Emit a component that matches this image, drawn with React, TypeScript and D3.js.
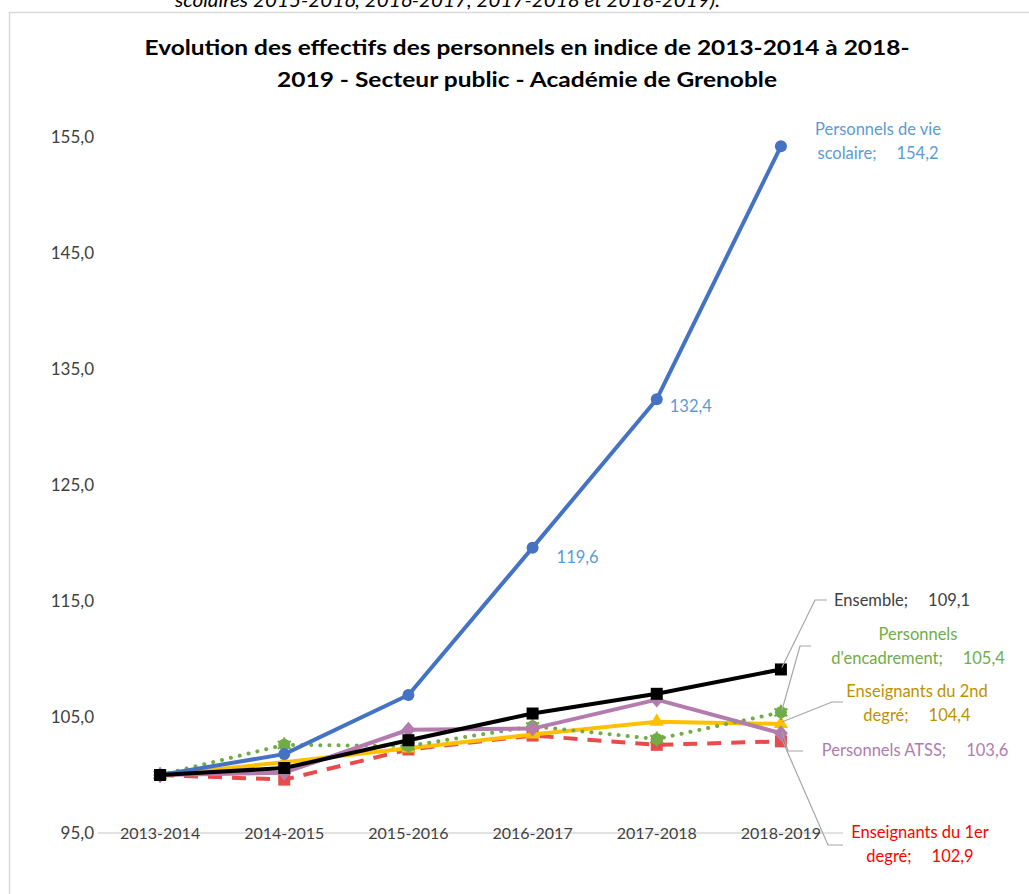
import { useEffect, useRef } from "react";
import * as d3 from "d3";

const years = ["2013-2014", "2014-2015", "2015-2016", "2016-2017", "2017-2018", "2018-2019"];
const yTicks = [95, 105, 115, 125, 135, 145, 155];

const vieScolaire = [100, 101.8, 106.9, 119.6, 132.4, 154.2];
const ensemble = [100, 100.6, 103.0, 105.3, 107.0, 109.1];
const encadrement = [100, 102.6, 102.5, 104.2, 103.1, 105.4];
const second = [100, 101.1, 102.3, 103.5, 104.6, 104.4];
const atss = [100, 100.2, 103.9, 104.0, 106.5, 103.6];
const premier = [100, 99.6, 102.2, 103.4, 102.6, 102.9];

const FONT = "Lato, 'Open Sans', sans-serif";

interface Series {
  name: string;
  values: number[];
  color: string;
  width: number;
  dash: string | null;
  cap: string;
  marker: "circle" | "square" | "triangle" | "diamond" | "star";
}

// drawing order: bottom to top
const series: Series[] = [
  { name: "premier", values: premier, color: "#E84B4B", width: 4, dash: "14,10", cap: "butt", marker: "square" },
  { name: "second", values: second, color: "#FFC000", width: 4, dash: null, cap: "round", marker: "triangle" },
  { name: "encadrement", values: encadrement, color: "#70AD47", width: 4, dash: "0.1,9", cap: "round", marker: "star" },
  { name: "atss", values: atss, color: "#B47BAE", width: 4, dash: null, cap: "round", marker: "diamond" },
  { name: "vie", values: vieScolaire, color: "#4472C4", width: 4, dash: null, cap: "round", marker: "circle" },
  { name: "ensemble", values: ensemble, color: "#000000", width: 4, dash: null, cap: "round", marker: "square" },
];

const App = () => {
  const svgRef = useRef<SVGSVGElement | null>(null);

  useEffect(() => {
    const svg = d3.select(svgRef.current);
    svg.selectAll("*").remove();

    const x = d3.scalePoint<string>().domain(years).range([98, 843]).padding(0.5);
    const y = d3.scaleLinear().domain([95, 155]).range([833, 137]);

    // frame + cropped caption above the chart
    svg.append("text")
      .attr("x", 175)
      .attr("y", 7)
      .attr("font-family", FONT)
      .attr("font-style", "italic")
      .attr("font-size", 19)
      .attr("fill", "#000")
      .attr("textLength", 545)
      .attr("lengthAdjust", "spacingAndGlyphs")
      .text("scolaires 2015-2016, 2016-2017, 2017-2018 et 2018-2019).");

    svg.append("rect")
      .attr("x", 9.5)
      .attr("y", 12.5)
      .attr("width", 1100)
      .attr("height", 1000)
      .attr("fill", "#fff")
      .attr("stroke", "#D9D9D9")
      .attr("stroke-width", 1.5);

    // title
    const title = [
      { t: "Evolution des effectifs des personnels en indice de 2013-2014 à 2018-", y: 55, len: 765 },
      { t: "2019 - Secteur public - Académie de Grenoble", y: 87, len: 500 },
    ];
    svg.selectAll(".title")
      .data(title)
      .enter()
      .append("text")
      .attr("x", 527)
      .attr("y", (d) => d.y)
      .attr("text-anchor", "middle")
      .attr("font-family", FONT)
      .attr("font-weight", "bold")
      .attr("font-size", 21)
      .attr("fill", "#000")
      .attr("textLength", (d) => d.len)
      .attr("lengthAdjust", "spacingAndGlyphs")
      .text((d) => d.t);

    // y axis labels
    svg.append("g")
      .selectAll("text")
      .data(yTicks)
      .enter()
      .append("text")
      .attr("x", 94)
      .attr("y", (d) => y(d) + 6)
      .attr("text-anchor", "end")
      .attr("font-family", FONT)
      .attr("font-size", 17)
      .attr("fill", "#404040")
      .text((d) => d3.format(".1f")(d).replace(".", ","));

    // x axis
    svg.append("line")
      .attr("x1", 98)
      .attr("x2", 843)
      .attr("y1", y(95))
      .attr("y2", y(95))
      .attr("stroke", "#D9D9D9")
      .attr("stroke-width", 1.5);

    svg.append("g")
      .selectAll("text")
      .data(years)
      .enter()
      .append("text")
      .attr("x", (d) => x(d) ?? 0)
      .attr("y", y(95) + 6)
      .attr("text-anchor", "middle")
      .attr("font-family", FONT)
      .attr("font-size", 16)
      .attr("fill", "#404040")
      .text((d) => d);

    const line = d3
      .line<number>()
      .x((_, i) => x(years[i]) ?? 0)
      .y((d) => y(d));

    series.forEach((s) => {
      const g = svg.append("g");
      g.append("path")
        .datum(s.values)
        .attr("fill", "none")
        .attr("stroke", s.color)
        .attr("stroke-width", s.width)
        .attr("stroke-linecap", s.cap)
        .attr("stroke-linejoin", "round")
        .attr("stroke-dasharray", s.dash)
        .attr("d", line);

      const pts = g.selectAll(".m")
        .data(s.values)
        .enter()
        .append("g")
        .attr("transform", (d, i) => `translate(${x(years[i])},${y(d)})`);

      if (s.marker === "circle") {
        pts.append("circle").attr("r", 6).attr("fill", s.color);
      } else if (s.marker === "square") {
        pts.append("rect").attr("x", -6).attr("y", -6).attr("width", 12).attr("height", 12).attr("fill", s.color);
      } else if (s.marker === "triangle") {
        pts.append("path").attr("d", d3.symbol(d3.symbolTriangle, 90)()).attr("fill", s.color);
      } else if (s.marker === "diamond") {
        pts.append("path").attr("d", "M0,-8L7,0L0,8L-7,0Z").attr("fill", s.color);
      } else {
        pts.append("circle").attr("r", 6).attr("fill", s.color);
        pts.append("path")
          .attr("d", d3.symbol(d3.symbolAsterisk, 160)())
          .attr("fill", "none")
          .attr("stroke", s.color)
          .attr("stroke-width", 2);
      }
    });

    // leader lines for end labels
    const lastX = x(years[5]) ?? 0;
    const leaders = [
      { v: ensemble[5], pts: [[815, 600], [827, 600]] },
      { v: encadrement[5], pts: [[800, 646], [811, 646]] },
      { v: second[5], pts: [[832, 702], [843, 702]] },
      { v: atss[5], pts: [[788, 751], [803, 751]] },
      { v: premier[5], pts: [[828, 845], [843, 845]] },
    ];
    leaders.forEach((l) => {
      const path = d3.line()([[lastX + 1, y(l.v) - 2], ...(l.pts as [number, number][])]);
      svg.append("path")
        .attr("d", path)
        .attr("fill", "none")
        .attr("stroke", "#A6A6A6")
        .attr("stroke-width", 1.2);
    });

    // data labels
    const labels = [
      { lines: ["Personnels de vie", "scolaire;|154,2"], x: 878, y: 135, anchor: "middle", color: "#5B9BD5" },
      { lines: ["132,4"], x: (x(years[4]) ?? 0) + 13, y: y(vieScolaire[4]) + 13, anchor: "start", color: "#5B9BD5" },
      { lines: ["119,6"], x: (x(years[3]) ?? 0) + 24, y: y(vieScolaire[3]) + 15, anchor: "start", color: "#5B9BD5" },
      { lines: ["Ensemble;|109,1"], x: 834, y: 606, anchor: "start", color: "#404040" },
      { lines: ["Personnels", "d'encadrement;|105,4"], x: 918, y: 640, anchor: "middle", color: "#70AD47" },
      { lines: ["Enseignants du 2nd", "degré;|104,4"], x: 917, y: 697, anchor: "middle", color: "#BF9000" },
      { lines: ["Personnels ATSS;|103,6"], x: 915, y: 756, anchor: "middle", color: "#B07CB0" },
      { lines: ["Enseignants du 1er", "degré;|102,9"], x: 920, y: 838, anchor: "middle", color: "#FF0000" },
    ];
    labels.forEach((lb) => {
      const t = svg.append("text")
        .attr("x", lb.x)
        .attr("y", lb.y)
        .attr("text-anchor", lb.anchor)
        .attr("font-family", FONT)
        .attr("font-size", 16.5)
        .attr("fill", lb.color);
      lb.lines.forEach((s, i) => {
        const parts = s.split("|");
        t.append("tspan").attr("x", lb.x).attr("dy", i === 0 ? 0 : 24).text(parts[0]);
        if (parts[1]) t.append("tspan").attr("dx", 20).text(parts[1]);
      });
    });
  }, []);

  return (
    <svg
      ref={svgRef}
      role="img"
      aria-label="Evolution des effectifs"
      width={1029}
      height={894}
      style={{ position: "absolute", left: 0, top: 0, background: "#fff" }}
    />
  );
};

export default App;
